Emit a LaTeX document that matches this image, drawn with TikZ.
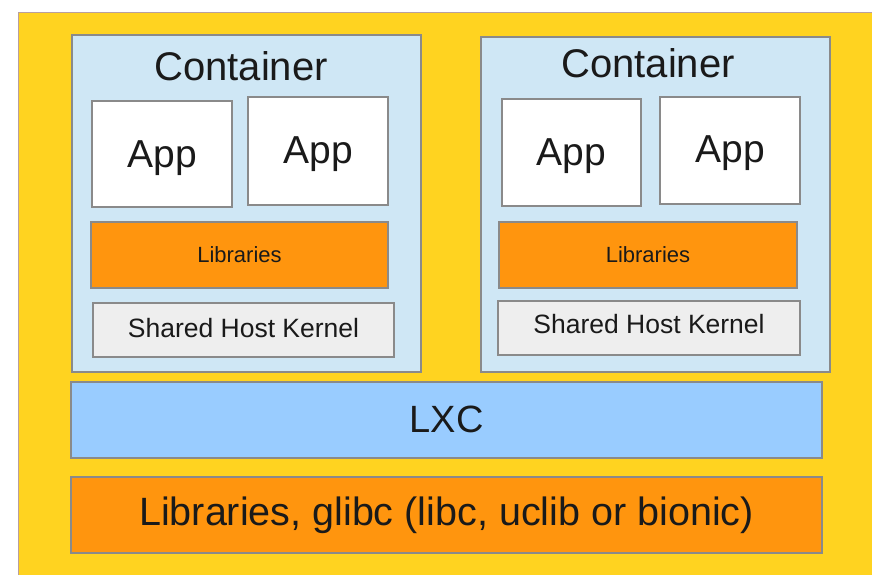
\documentclass[tikz,border=0pt]{standalone}
\usepackage{fontspec}
\setmainfont{Liberation Sans}
\definecolor{ybg}{HTML}{FFD320}
\definecolor{cont}{HTML}{CFE7F5}
\definecolor{lxc}{HTML}{99CCFF}
\definecolor{orng}{HTML}{FF950E}
\definecolor{kern}{HTML}{EEEEEE}
\definecolor{edge}{HTML}{8A8A8A}
\definecolor{txt}{HTML}{1A1A1A}
\begin{document}
\begin{tikzpicture}[x=1pt,y=-1pt,
  box/.style={draw=edge,line width=1.2pt},
  contbox/.style={box,fill=cont},
  appbox/.style={box,fill=white},
  libbox/.style={box,fill=orng},
  kernbox/.style={box,fill=kern},
  lxcbox/.style={box,fill=lxc},
  lbl/.style={text=txt,inner sep=0pt,anchor=base},
  apptxt/.style={lbl,font=\fontsize{39}{44}\selectfont},
  libtxt/.style={lbl,font=\fontsize{22}{26}\selectfont},
  kerntxt/.style={lbl,font=\fontsize{26.5}{30}\selectfont},
  bigtxt/.style={lbl,font=\fontsize{39.5}{44}\selectfont},
  title/.style={lbl,font=\fontsize{40}{44}\selectfont}]
\useasboundingbox (0,0) rectangle (872,574);
\fill[white] (0,0) rectangle (872,574);
\filldraw[fill=ybg,draw=edge!60!pink,line width=0.8pt] (18,12) rectangle (880,590);
% containers
\draw[contbox] (72,35) rectangle (421,372);
\draw[contbox] (481,37) rectangle (830,372);
\node[title] (c1) at (241,80) {Container};
\node[title] (c2) at (648,77) {Container};
% apps
\draw[appbox] (92,101) rectangle (232,207);
\draw[appbox] (248,97) rectangle (388,205);
\draw[appbox] (502,99) rectangle (641,206);
\draw[appbox] (660,97) rectangle (800,204);
\node[apptxt] (a1) at (162,167) {App};
\node[apptxt] (a2) at (318,163) {App};
\node[apptxt] (a3) at (571.5,165) {App};
\node[apptxt] (a4) at (730,162) {App};
% libraries
\draw[libbox] (91,222) rectangle (388,288);
\draw[libbox] (499,222) rectangle (797,288);
\node[libtxt] (l1) at (239.5,262) {Libraries};
\node[libtxt] (l2) at (648,262) {Libraries};
% kernel
\draw[kernbox] (93,303) rectangle (394,357);
\draw[kernbox] (498,301) rectangle (800,355);
\node[kerntxt] (k1) at (243.5,337) {Shared Host Kernel};
\node[kerntxt] (k2) at (649,333) {Shared Host Kernel};
% LXC
\draw[lxcbox] (71,382) rectangle (822,458);
\node[bigtxt,font=\fontsize{38}{44}\selectfont] (lxc) at (446.5,432) {LXC};
% glibc
\draw[libbox] (71,477) rectangle (822,553);
\node[bigtxt] (gl) at (446.5,525) {Libraries, glibc (libc, uclib or bionic)};
\end{tikzpicture}
\end{document}
